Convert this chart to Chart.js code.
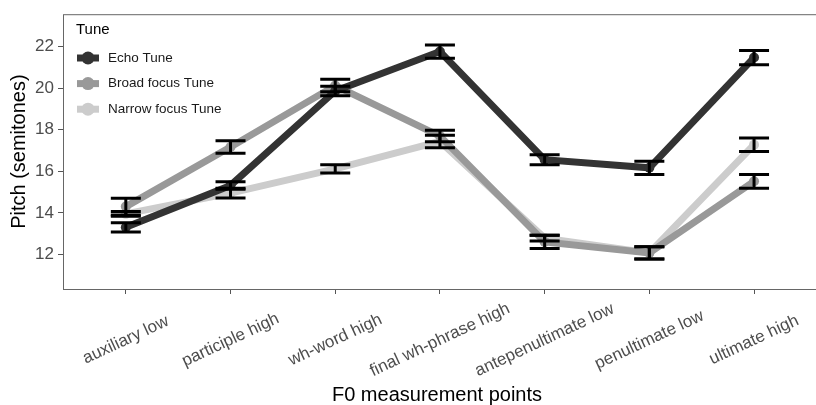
<!DOCTYPE html>
<html>
<head>
<meta charset="utf-8">
<script src="https://cdn.jsdelivr.net/npm/chart.js@4"></script>
<style>
  html, body { margin: 0; padding: 0; background: #fff; }
  canvas { display: block; }
</style>
</head>
<body>
<canvas id="pitchChart" width="816" height="405"></canvas>
<script>
// data
const categories = ['auxiliary low', 'participle high', 'wh-word high', 'final wh-phrase high',
  'antepenultimate low', 'penultimate low', 'ultimate high'];
const echoMean = [13.3, 15.32, 19.87, 21.77, 16.56, 16.17, 21.48];
const echoErr = [0.22, 0.18, 0.23, 0.32, 0.24, 0.32, 0.34];
const broadMean = [14.3, 17.17, 20.13, 17.7, 12.6, 12.07, 15.52];
const broadErr = [0.4, 0.3, 0.3, 0.28, 0.32, 0.3, 0.33];
const narrowMean = [13.95, 14.95, 16.12, 17.44, 12.78, 12.07, 17.28];
const narrowErr = [0.12, 0.23, 0.2, 0.3, 0.14, 0.3, 0.33];
const yTicks = [12, 14, 16, 18, 20, 22];

const FONT = "'Liberation Sans', Arial, sans-serif";
Chart.defaults.font.family = FONT;

const toPoints = (means) => means.map((v, i) => ({ x: i, y: v }));

const errorBars = {
  id: 'errorBars',
  afterDatasetsDraw(chart) {
    const { ctx, scales: { x, y } } = chart;
    ctx.save();
    ctx.strokeStyle = '#000';
    ctx.lineWidth = 3;
    chart.data.datasets.forEach((ds) => {
      ds.means.forEach((m, i) => {
        const px = x.getPixelForValue(i);
        const top = y.getPixelForValue(m + ds.errs[i]);
        const bot = y.getPixelForValue(m - ds.errs[i]);
        ctx.beginPath();
        ctx.moveTo(px, top); ctx.lineTo(px, bot);
        ctx.moveTo(px - 15, top); ctx.lineTo(px + 15, top);
        ctx.moveTo(px - 15, bot); ctx.lineTo(px + 15, bot);
        ctx.stroke();
      });
    });
    ctx.restore();
  }
};

const panelAndLabels = {
  id: 'panelAndLabels',
  afterDraw(chart) {
    const { ctx, chartArea: a, scales: { x } } = chart;
    ctx.save();
    // panel border (right edge falls outside the picture)
    ctx.strokeStyle = '#666';
    ctx.lineWidth = 1;
    ctx.strokeRect(a.left + 0.5, a.top + 0.5, a.right - a.left + 20, a.bottom - a.top);

    // rotated category labels, centred on the ticks
    ctx.fillStyle = '#4d4d4d';
    ctx.font = '17px ' + FONT;
    ctx.textAlign = 'center';
    ctx.textBaseline = 'middle';
    categories.forEach((c, i) => {
      ctx.save();
      ctx.translate(x.getPixelForValue(i), 340);
      ctx.rotate(-25 * Math.PI / 180);
      ctx.fillText(c, 0, 0);
      ctx.restore();
    });

    // legend inside panel
    ctx.textAlign = 'left';
    ctx.fillStyle = '#000';
    ctx.font = '15px ' + FONT;
    ctx.fillText('Tune', 76, 30);
    ctx.font = '13.5px ' + FONT;
    chart.data.datasets.forEach((ds, i) => {
      const cy = 58 + i * 25.6;
      ctx.strokeStyle = ds.borderColor;
      ctx.lineWidth = 7;
      ctx.beginPath();
      ctx.moveTo(77, cy); ctx.lineTo(99, cy);
      ctx.stroke();
      ctx.fillStyle = ds.borderColor;
      ctx.beginPath();
      ctx.arc(88, cy, 6.5, 0, Math.PI * 2);
      ctx.fill();
      ctx.fillStyle = '#1a1a1a';
      ctx.fillText(ds.label, 108, cy);
    });
    ctx.restore();
  }
};

const series = (label, color, means, errs) => ({
  label,
  data: toPoints(means),
  means,
  errs,
  borderColor: color,
  backgroundColor: color,
  borderWidth: 7,
  pointRadius: 5,
  pointBorderWidth: 0,
  tension: 0,
});

new Chart(document.getElementById('pitchChart'), {
  type: 'line',
  data: {
    datasets: [
      series('Echo Tune', '#333333', echoMean, echoErr),
      series('Broad focus Tune', '#999999', broadMean, broadErr),
      series('Narrow focus Tune', '#cccccc', narrowMean, narrowErr),
    ],
  },
  options: {
    responsive: false,
    animation: false,
    devicePixelRatio: 1,
    layout: { padding: { top: 10, left: 0, right: 0, bottom: 0 } },
    plugins: {
      legend: { display: false },
      tooltip: { enabled: false },
    },
    scales: {
      x: {
        type: 'linear',
        min: -0.6,
        max: 6.544,
        afterBuildTicks: (axis) => { axis.ticks = categories.map((c, i) => ({ value: i })); },
        afterFit: (axis) => { axis.height = 116; },
        ticks: { display: false },
        grid: { drawOnChartArea: false, drawTicks: true, tickLength: 5, color: '#555' },
        border: { display: false },
        title: {
          display: true,
          text: 'F0 measurement points',
          color: '#000',
          font: { size: 20, lineHeight: 1 },
          padding: { top: 2, bottom: 0 },
        },
      },
      y: {
        min: 10.33,
        max: 23.57,
        afterBuildTicks: (axis) => { axis.ticks = yTicks.map((v) => ({ value: v })); },
        afterFit: (axis) => { axis.width = 63; },
        ticks: { color: '#4d4d4d', font: { size: 17 }, padding: 4 },
        grid: { drawOnChartArea: false, drawTicks: true, tickLength: 5, color: '#555' },
        border: { display: false },
        title: {
          display: true,
          text: 'Pitch (semitones)',
          color: '#000',
          font: { size: 20, lineHeight: 1 },
          padding: { top: 9, bottom: 0 },
        },
      },
    },
  },
  plugins: [errorBars, panelAndLabels],
});
</script>
</body>
</html>
